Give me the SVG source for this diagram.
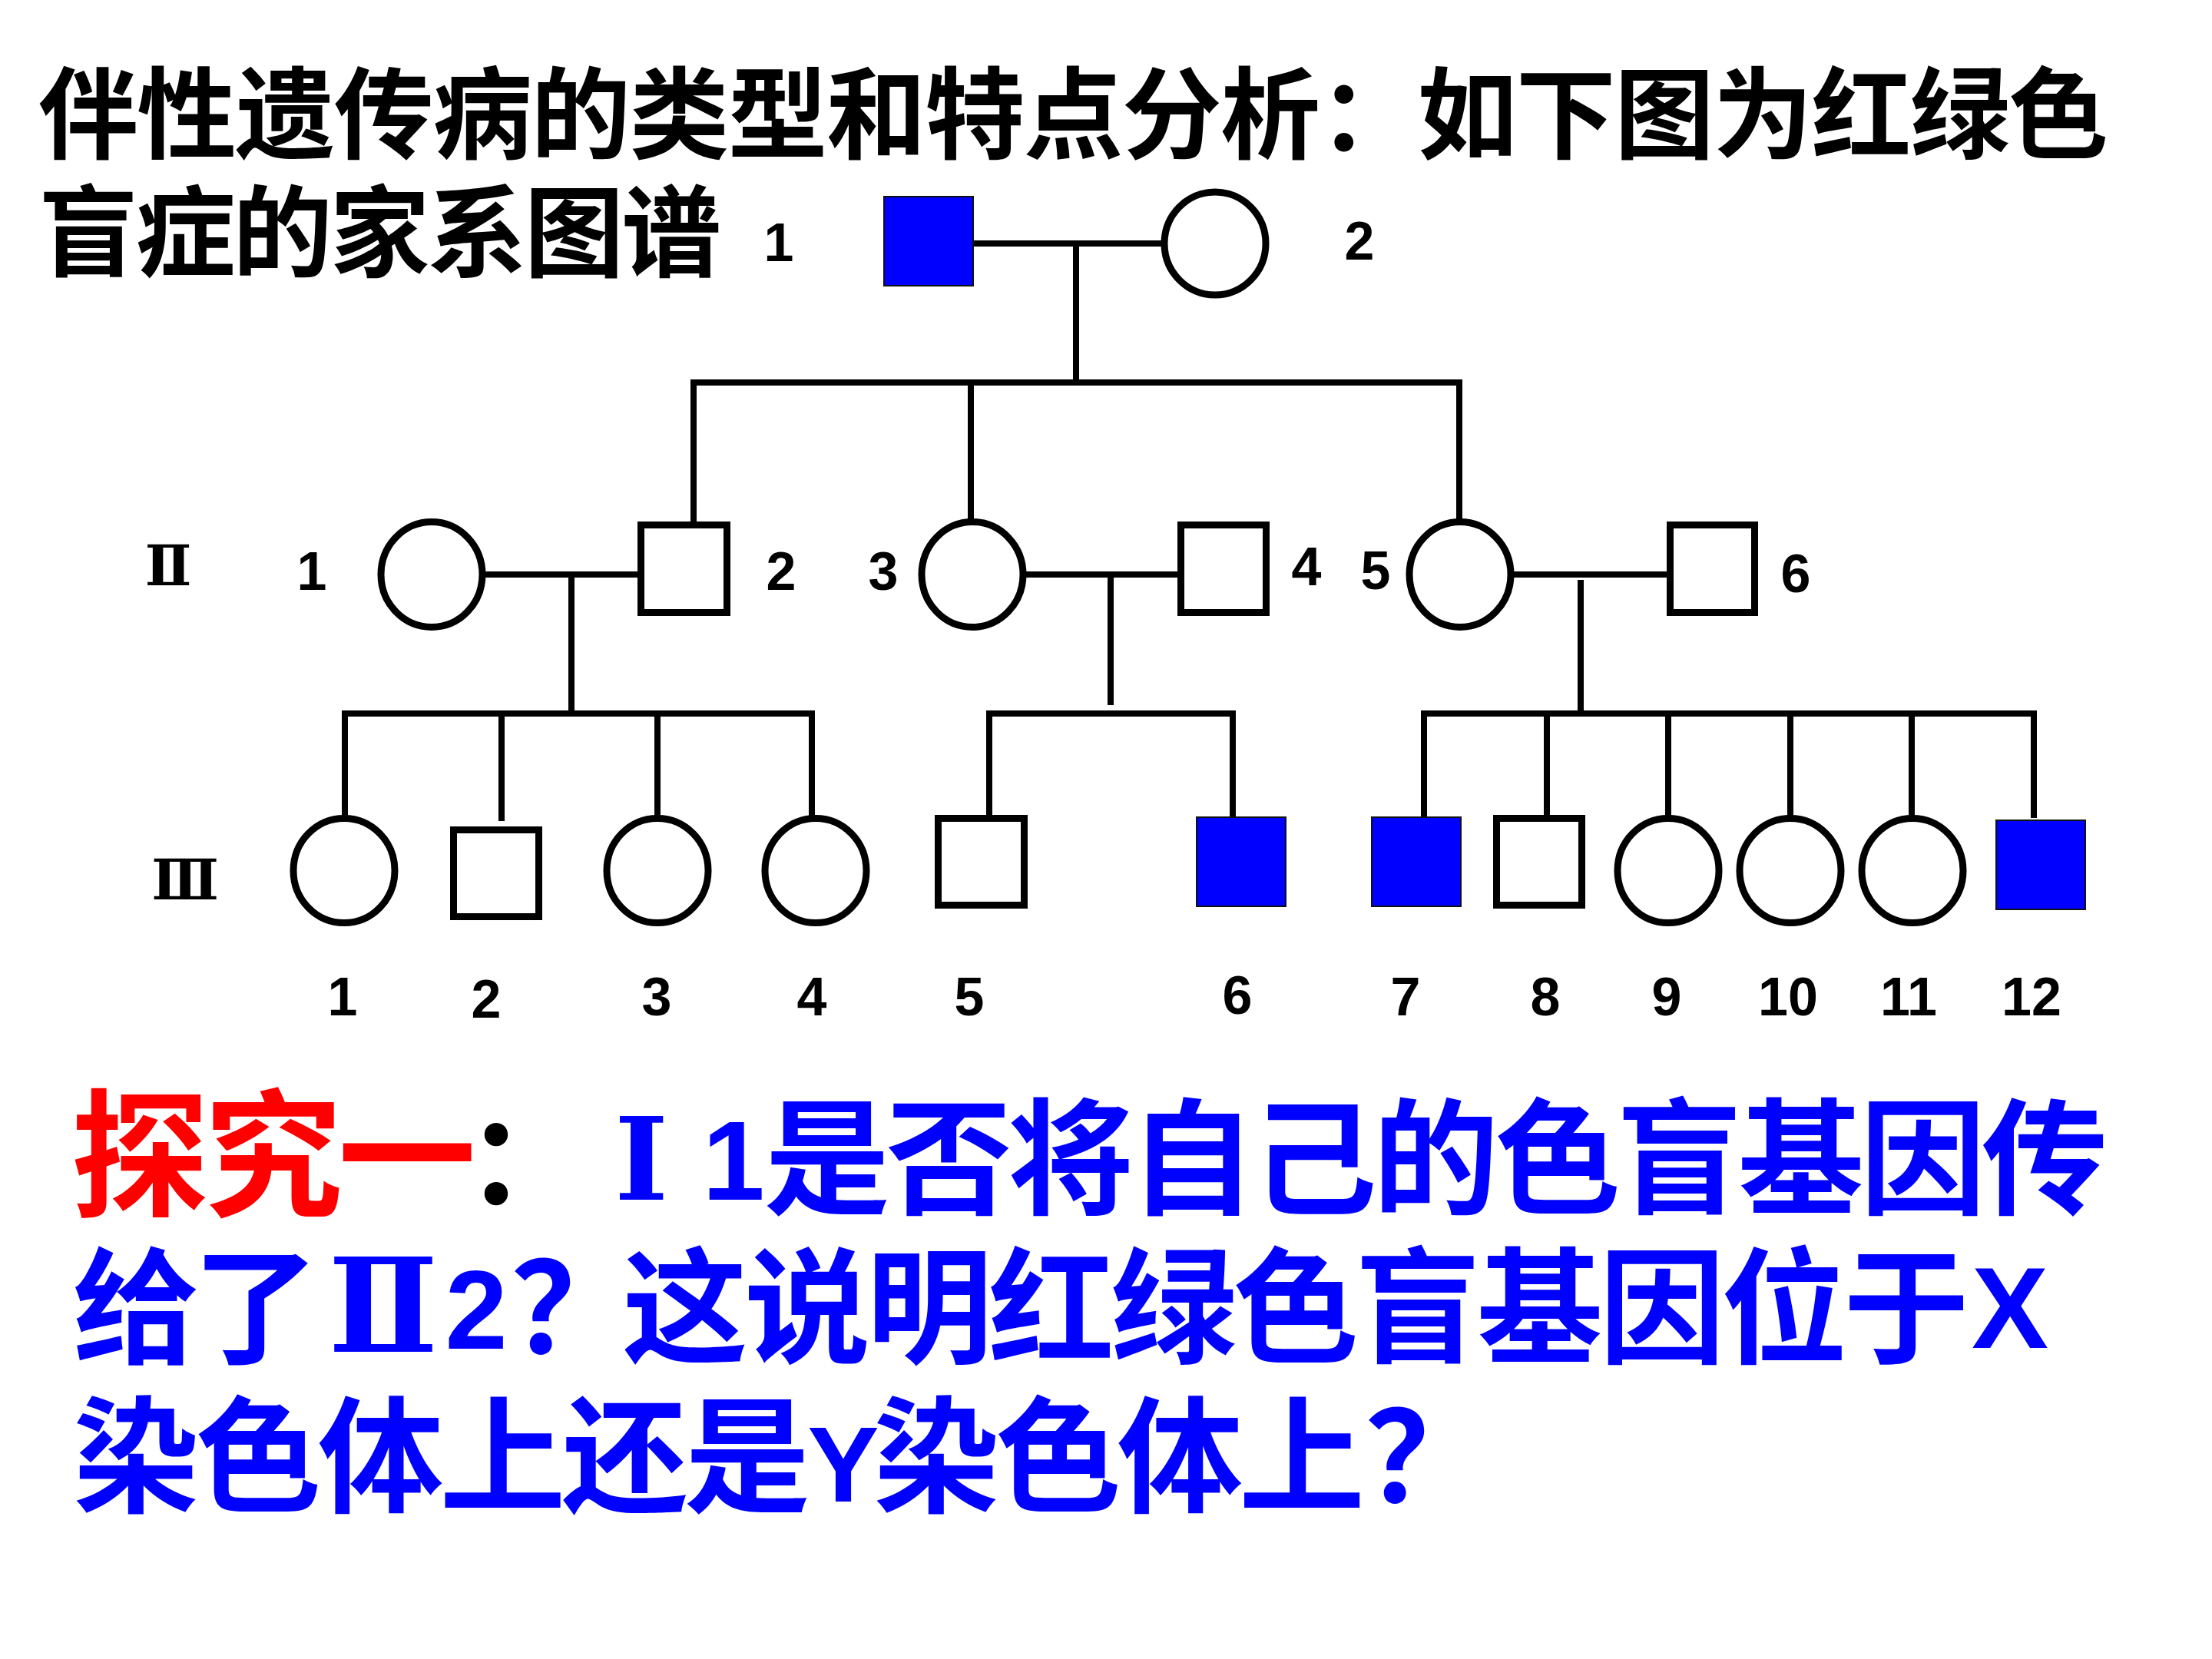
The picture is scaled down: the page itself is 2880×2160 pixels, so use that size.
<svg xmlns="http://www.w3.org/2000/svg" width="2880" height="2160" viewBox="0 0 2880 2160">
<style>
.cjk{font-family:"Noto Sans CJK SC","Noto Sans CJK TC",sans-serif;font-weight:700}
.num{font-family:"Liberation Sans","DejaVu Sans",sans-serif;font-weight:700;font-size:70px;text-anchor:middle;fill:#000}
.rom{font-family:"DejaVu Serif","Liberation Serif",serif;font-weight:700;text-anchor:middle}
.ln{stroke:#000;stroke-width:8;fill:none}
.open{fill:#fff;stroke:#000;stroke-width:9}
.aff{fill:#0000FF;stroke:#111;stroke-width:2}
.blue{fill:#0000FF}
</style>
<rect width="2880" height="2160" fill="#fff"/>

<g id="title">
<text class="cjk" x="50" y="196" font-size="130" textLength="2695" lengthAdjust="spacing" fill="#000">伴性遗传病的类型和特点分析：如下图为红绿色</text>
<text class="cjk" x="50" y="350" font-size="130" textLength="889" lengthAdjust="spacing" fill="#000">盲症的家系图谱</text>
</g>

<g id="connectors">
<line class="ln" x1="1267" y1="317" x2="1516" y2="317"/>
<line class="ln" x1="1401" y1="317" x2="1401" y2="498"/>
<line class="ln" x1="899" y1="498" x2="1904" y2="498"/>
<line class="ln" x1="903" y1="494" x2="903" y2="682"/>
<line class="ln" x1="1264" y1="498" x2="1264" y2="678"/>
<line class="ln" x1="1900" y1="494" x2="1900" y2="678"/>

<line class="ln" x1="630" y1="748" x2="834" y2="748"/>
<line class="ln" x1="744" y1="748" x2="744" y2="929"/>
<line class="ln" x1="1334" y1="748" x2="1537" y2="748"/>
<line class="ln" x1="1446" y1="752" x2="1446" y2="918"/>
<line class="ln" x1="1969" y1="748" x2="2174" y2="748"/>
<line class="ln" x1="2058" y1="755" x2="2058" y2="929"/>

<line class="ln" x1="445" y1="929" x2="1061" y2="929"/>
<line class="ln" x1="449" y1="925" x2="449" y2="1064"/>
<line class="ln" x1="653" y1="929" x2="653" y2="1069"/>
<line class="ln" x1="856" y1="929" x2="856" y2="1064"/>
<line class="ln" x1="1057" y1="925" x2="1057" y2="1064"/>

<line class="ln" x1="1284" y1="929" x2="1609" y2="929"/>
<line class="ln" x1="1288" y1="925" x2="1288" y2="1064"/>
<line class="ln" x1="1605" y1="925" x2="1605" y2="1064"/>

<line class="ln" x1="1850" y1="929" x2="2652" y2="929"/>
<line class="ln" x1="1854" y1="925" x2="1854" y2="1064"/>
<line class="ln" x1="2014" y1="929" x2="2014" y2="1064"/>
<line class="ln" x1="2172" y1="929" x2="2172" y2="1064"/>
<line class="ln" x1="2331" y1="929" x2="2331" y2="1064"/>
<line class="ln" x1="2489" y1="929" x2="2489" y2="1064"/>
<line class="ln" x1="2648" y1="925" x2="2648" y2="1065"/>
</g>

<g id="I-1"><rect class="aff" x="1151" y="256" width="116" height="116"/><text class="num" x="1014" y="340">1</text></g>
<g id="I-2"><ellipse class="open" cx="1582" cy="317" rx="66" ry="67"/><text class="num" x="1770" y="338">2</text></g>

<g id="gen-II-label"><text class="rom" x="219" y="762" font-size="72">Ⅱ</text></g>
<g id="II-1"><ellipse class="open" cx="562" cy="748" rx="66" ry="68.5"/><text class="num" x="406" y="768">1</text></g>
<g id="II-2"><rect class="open" x="834.5" y="683.5" width="112" height="114"/><text class="num" x="1017" y="768">2</text></g>
<g id="II-3"><ellipse class="open" cx="1266" cy="748" rx="66" ry="68.5"/><text class="num" x="1150" y="768">3</text></g>
<g id="II-4"><rect class="open" x="1537.5" y="683.5" width="111" height="114"/><text class="num" x="1701" y="762">4</text></g>
<g id="II-5"><ellipse class="open" cx="1901" cy="748" rx="66" ry="68.5"/><text class="num" x="1791" y="767">5</text></g>
<g id="II-6"><rect class="open" x="2174.5" y="683.5" width="110" height="114"/><text class="num" x="2338" y="771">6</text></g>

<g id="gen-III-label"><text class="rom" x="241" y="1171" font-size="72">Ⅲ</text></g>
<g id="III-1"><ellipse class="open" cx="448" cy="1133.5" rx="66" ry="68"/><text class="num" x="446" y="1322">1</text></g>
<g id="III-2"><rect class="open" x="590.5" y="1080.5" width="111" height="113"/><text class="num" x="633" y="1325">2</text></g>
<g id="III-3"><ellipse class="open" cx="856" cy="1133.5" rx="66" ry="68"/><text class="num" x="855" y="1322">3</text></g>
<g id="III-4"><ellipse class="open" cx="1062" cy="1133.5" rx="66" ry="68"/><text class="num" x="1057" y="1322">4</text></g>
<g id="III-5"><rect class="open" x="1221.5" y="1065.5" width="112" height="113"/><text class="num" x="1262" y="1322">5</text></g>
<g id="III-6"><rect class="aff" x="1558" y="1064" width="116" height="116"/><text class="num" x="1611" y="1320">6</text></g>
<g id="III-7"><rect class="aff" x="1786" y="1064" width="116" height="116"/><text class="num" x="1830" y="1322">7</text></g>
<g id="III-8"><rect class="open" x="1948.5" y="1065.5" width="111" height="113"/><text class="num" x="2012" y="1322">8</text></g>
<g id="III-9"><ellipse class="open" cx="2172" cy="1133.5" rx="66" ry="68"/><text class="num" x="2170" y="1322">9</text></g>
<g id="III-10"><ellipse class="open" cx="2331" cy="1133.5" rx="66" ry="68"/><text class="num" x="2328" y="1322">10</text></g>
<g id="III-11"><ellipse class="open" cx="2490" cy="1133.5" rx="66" ry="68"/><text class="num" x="2485" y="1322">11</text></g>
<g id="III-12"><rect class="aff" x="2599" y="1068" width="116" height="116"/><text class="num" x="2645" y="1322">12</text></g>

<g id="question">
<text class="cjk" x="92" y="1570" font-size="180" textLength="528" lengthAdjust="spacing" fill="#FF0000">探究一</text>
<text class="cjk" x="606" y="1568" font-size="160" fill="#000">：</text>
<text class="rom blue" x="835" y="1562" font-size="150">Ⅰ</text>
<text x="955" y="1562" font-size="146" text-anchor="middle" font-family="Liberation Sans, sans-serif" font-weight="700" class="blue">1</text>
<text class="cjk blue" x="995" y="1568" font-size="164" textLength="1749" lengthAdjust="spacing">是否将自己的色盲基因传</text>

<text class="cjk blue" x="95" y="1762" font-size="164" textLength="320" lengthAdjust="spacing">给了</text>
<text class="rom blue" x="499" y="1760" font-size="170">Ⅱ</text>
<text x="620" y="1756" font-size="146" text-anchor="middle" font-family="Liberation Sans, sans-serif" font-weight="700" class="blue">2</text>
<text class="cjk blue" x="665" y="1762" font-size="164">？</text>
<text class="cjk blue" x="810" y="1762" font-size="164" textLength="1754" lengthAdjust="spacing">这说明红绿色盲基因位于</text>
<text x="2617" y="1755" font-size="150" text-anchor="middle" font-family="Liberation Sans, sans-serif" font-weight="700" class="blue">X</text>

<text class="cjk blue" x="95" y="1956" font-size="164" textLength="960" lengthAdjust="spacing">染色体上还是</text>
<text x="1098" y="1955" font-size="140" text-anchor="middle" font-family="Liberation Sans, sans-serif" font-weight="700" class="blue">Y</text>
<text class="cjk blue" x="1137" y="1956" font-size="164" textLength="640" lengthAdjust="spacing">染色体上</text>
<text class="cjk blue" x="1777" y="1956" font-size="164">？</text>
</g>
</svg>
